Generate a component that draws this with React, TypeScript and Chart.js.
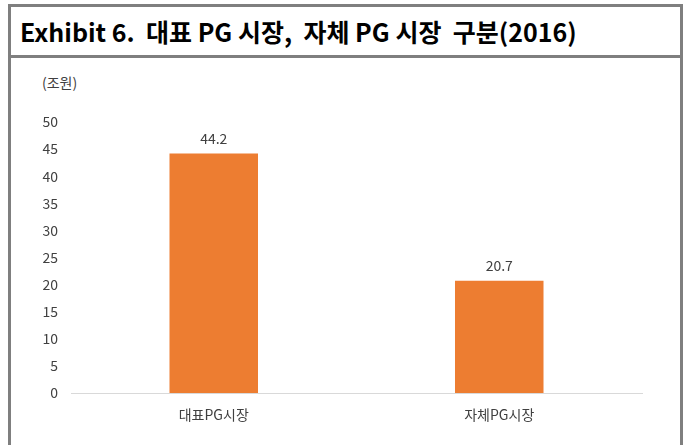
import React, { useEffect, useRef } from "react";
import { Chart, registerables } from "chart.js";

Chart.register(...registerables);

const categories = ["대표PG시장", "자체PG시장"];
const values = [44.2, 20.7];
const yTicks = [0, 5, 10, 15, 20, 25, 30, 35, 40, 45, 50];
const titleText = "Exhibit 6.  대표 PG 시장,  자체 PG 시장  구분(2016)";
const unitText = "(조원)";

const FONT = "'Noto Sans CJK KR', 'Noto Sans', sans-serif";

const valueLabelPlugin = {
  id: "valueLabels",
  afterDatasetsDraw(chart: any) {
    const ctx = chart.ctx;
    const meta = chart.getDatasetMeta(0);
    ctx.save();
    ctx.font = `14px ${FONT}`;
    ctx.fillStyle = "#404040";
    ctx.textAlign = "center";
    ctx.textBaseline = "middle";
    meta.data.forEach((bar: any, i: number) => {
      ctx.fillText(values[i].toFixed(1), bar.x, bar.y - 15);
    });
    ctx.restore();
  },
};

export default function App() {
  const ref = useRef<HTMLCanvasElement | null>(null);
  useEffect(() => {
    if (!ref.current) return;
    const chart = new Chart(ref.current, {
      type: "bar",
      data: {
        labels: categories,
        datasets: [
          {
            data: values,
            backgroundColor: "#ED7D31",
            barPercentage: 0.62,
            categoryPercentage: 0.5,
          },
        ],
      },
      options: {
        animation: false,
        responsive: false,
        maintainAspectRatio: false,
        layout: { padding: { left: 21, right: 47, top: 122, bottom: 12 } },
        plugins: { legend: { display: false }, tooltip: { enabled: false } },
        scales: {
          x: {
            grid: { display: false, drawTicks: false },
            border: { display: true, color: "#d9d9d9", width: 1 },
            ticks: {
              padding: 13,
              color: "#404040",
              font: { family: FONT, size: 14 },
            },
            afterFit(scale: any) {
              scale.height = 40;
            },
          },
          y: {
            min: 0,
            max: 50,
            afterBuildTicks(scale: any) {
              scale.ticks = yTicks.map((v) => ({ value: v }));
            },
            grid: { display: false, drawTicks: false },
            border: { display: false },
            ticks: {
              padding: 13,
              color: "#404040",
              font: { family: FONT, size: 14 },
            },
            afterFit(scale: any) {
              scale.width = 50;
            },
          },
        },
      },
      plugins: [valueLabelPlugin],
    });
    return () => chart.destroy();
  }, []);

  return (
    <div style={{ position: "absolute", left: 0, top: 0, width: 689, height: 445, overflow: "hidden", background: "#fff" }}>
      <div
        style={{
          position: "absolute",
          left: 8,
          top: 4,
          width: 669,
          height: 470,
          border: "3px solid #7f7f7f",
        }}
      />
      <div style={{ position: "absolute", left: 8, top: 55, width: 675, height: 3, background: "#7f7f7f" }} />
      <div
        style={{
          position: "absolute",
          left: 20,
          top: 13,
          fontFamily: FONT,
          fontWeight: 700,
          fontSize: 25,
          lineHeight: "36px",
          color: "#000",
          whiteSpace: "pre",
        }}
      >
        {titleText}
      </div>
      <div
        style={{
          position: "absolute",
          left: 42,
          top: 72,
          fontFamily: FONT,
          fontSize: 14,
          lineHeight: "20px",
          color: "#404040",
        }}
      >
        {unitText}
      </div>
      <canvas ref={ref} width={689} height={445} style={{ position: "absolute", left: 0, top: 0, width: 689, height: 445 }} />
    </div>
  );
}
